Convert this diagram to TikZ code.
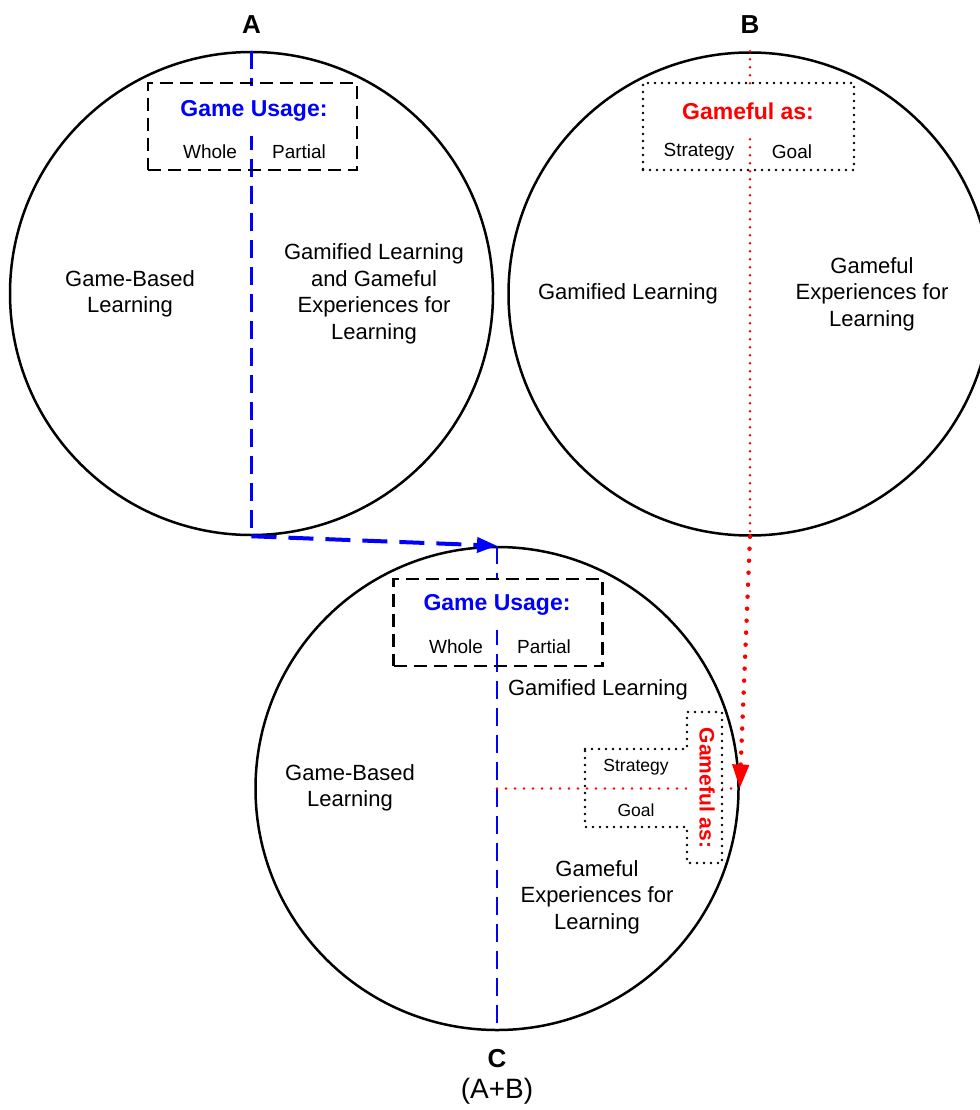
\documentclass[tikz,border=0pt]{standalone}
\usepackage{fontspec}
\setmainfont{Liberation Sans}
\usetikzlibrary{arrows.meta,positioning}

\begin{document}
\begin{tikzpicture}[x=1pt,y=-1pt,
big circle/.style={circle,draw,line width=2.5pt,minimum size=483pt,inner sep=0pt},
txt/.style={align=center,font=\fontsize{22}{26.5}\selectfont},
small/.style={font=\fontsize{19}{22}\selectfont},
tiny/.style={font=\fontsize{17.5}{20}\selectfont},
head/.style={font=\fontsize{26}{30}\selectfont\bfseries},
title/.style={font=\fontsize{23}{27}\selectfont\bfseries,fill=white,minimum width=150pt,minimum height=50pt,inner sep=0pt},
dash box/.style={draw,line width=2.5pt,dash pattern=on 13pt off 7pt,minimum width=209pt,minimum height=87pt},
dot box/.style={draw,line width=2.8pt,line cap=round,dash pattern=on 0pt off 7pt,minimum width=211pt,minimum height=87pt},
usage line/.style={blue,line width=2.5pt,dash pattern=on 18pt off 9pt},
gameful line/.style={red,line width=2.8pt,line cap=round,dash pattern=on 0pt off 8pt}]

\useasboundingbox (0,0) rectangle (979,1110);

% the three circles
\node[big circle] (A) at (251.5,293.5) {};
\node[big circle] (B) at (750,294) {};
\node[big circle] (C) at (497,788.5) {};

\node[head] (lblA) [above=14pt of A] {A};
\node[head] (lblB) [above=14pt of B] {B};
\node[head] (lblC) [below=15pt of C] {C};
\node[font=\fontsize{28}{32}\selectfont] (ab) [below=3pt of lblC] {(A+B)};

% dividing lines
\draw[usage line] (A.north) -- (A.south);
\draw[gameful line] (B.north) -- (B.south);
\draw[usage line] (C.north) -- (C.south);
\draw[gameful line,dash pattern=on 0pt off 9pt] (C.center) -- (C.east);

% circle A
\node[dash box] (boxA) at (252.5,126.5) {};
\node[title,text=blue] (useA) at (254,111) {Game Usage:};
\node[small] (wholeA) at (210,152) {Whole};
\node[small] (partA) at (299,152) {Partial};
\node[txt] (gblA) at (130,294) {Game-Based\\Learning};
\node[txt] (mixA) at (374,294) {Gamified Learning\\and Gameful\\Experiences for\\Learning};

% circle B
\node[dot box] (boxB) at (748.5,126.5) {};
\node[title,text=red] (asB) at (748,111) {Gameful as:};
\node[small] (stratB) at (699,152) {Strategy};
\node[small] (goalB) at (792,152) {Goal};
\node[txt] (gamB) at (628,294) {Gamified Learning};
\node[txt] (gexB) at (872,294) {Gameful\\Experiences for\\Learning};

% circle C
\node[dash box] (boxC) at (498,622.5) {};
\node[title,text=blue] (useC) at (497,605) {Game Usage:};
\node[small] (wholeC) at (456,647) {Whole};
\node[small] (partC) at (544,647) {Partial};
\node[txt] (gblC) at (350,788) {Game-Based\\Learning};
\node[txt] (gamC) at (598,690) {Gamified Learning};
\node[txt] (gexC) at (597,897) {Gameful\\Experiences for\\Learning};

\node[outer sep=0pt,inner sep=0pt,minimum width=102pt,minimum height=78pt] (sg) at (636,788) {};
\node[outer sep=0pt,inner sep=0pt,fill=white,minimum width=35pt,minimum height=151pt] (gf) at (704.5,787.5) {};
\draw[line width=2.8pt,line cap=round,dash pattern=on 0pt off 7pt]
  (sg.north west) -- (sg.north east) -- (gf.north west) -- (gf.north east)
  -- (gf.south east) -- (gf.south west) -- (sg.south east) -- (sg.south west) -- cycle;
\node[tiny] (stratC) at (636,767) {Strategy};
\node[tiny] (goalC) at (636,810) {Goal};
\node[font=\fontsize{21}{25}\selectfont\bfseries,text=red,rotate=-90] (asC) at (707,788) {Gameful as:};

% arrows into C
\draw[blue,line width=4pt,dash pattern=on 25pt off 12pt,-{Triangle[length=20pt,width=15pt]}] (A.south) -- (C.north);
\draw[red,line width=4.5pt,line cap=round,dash pattern=on 0pt off 12pt,-{Triangle[length=24pt,width=16pt]}] (B.south) -- (C.east);
\end{tikzpicture}
\end{document}
